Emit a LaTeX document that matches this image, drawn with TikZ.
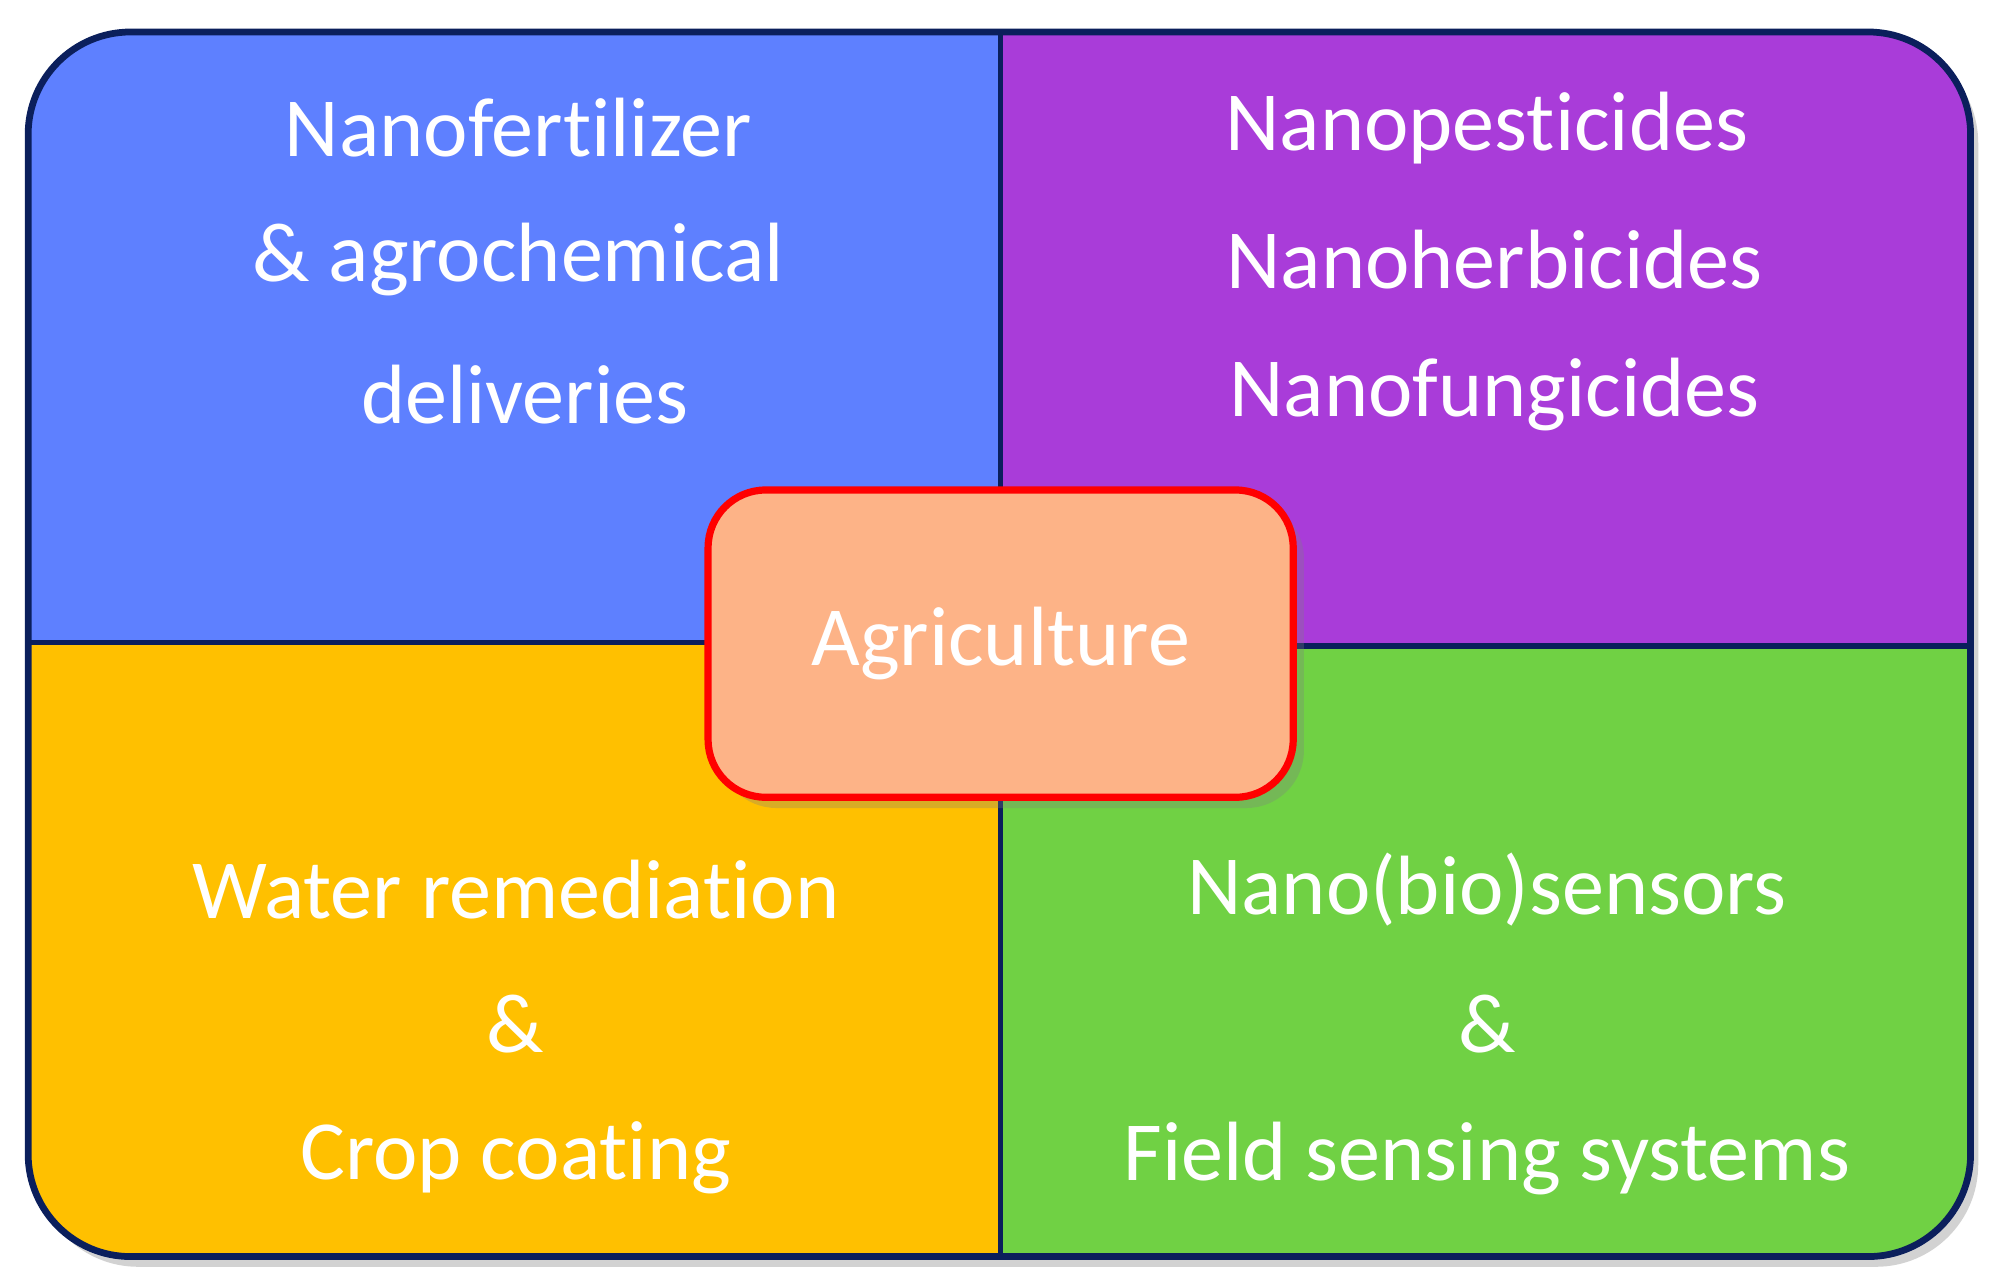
\documentclass[tikz,border=0pt]{standalone}
\usepackage{fontspec}
\setmainfont[Ligatures={NoCommon}]{Carlito}
\usetikzlibrary{shadows}
\definecolor{qblue}{HTML}{5E80FF}
\definecolor{qpurple}{HTML}{A93CD9}
\definecolor{qyellow}{HTML}{FFC000}
\definecolor{qgreen}{HTML}{70D144}
\definecolor{qedge}{HTML}{0B1F5C}
\definecolor{qcenter}{HTML}{FDB387}
\tikzset{lbl/.style={text=white,font=\fontsize{18.7}{23}\selectfont,inner sep=0pt,anchor=center}}
\begin{document}
\begin{tikzpicture}[x=0.01cm,y=-0.01cm]
\useasboundingbox (0,0) rectangle (1563,1000);
\fill[gray!35,rounded corners=0.8cm] (28,32) rectangle (1546,990);
\begin{scope}
\clip[rounded corners=0.8cm] (22,25) rectangle (1540,982);
\fill[qblue] (22,25) rectangle (782,502);
\fill[qpurple] (782,25) rectangle (1540,505);
\fill[qyellow] (22,502) rectangle (782,982);
\fill[qgreen] (782,505) rectangle (1540,982);
\end{scope}
\draw[qedge,line width=1.2pt] (782,25) -- (782,982);
\draw[qedge,line width=1.2pt] (22,502) -- (782,502) -- (782,505) -- (1540,505);
\draw[qedge,line width=1.5pt,rounded corners=0.8cm] (22,25) rectangle (1540,982);
\node[lbl] (a1) at (405,100) {Nanofertilizer};
\node[lbl] (a2) at (405,203) {\& agrochemical};
\node[lbl] (a3) at (410,308) {deliveries};
\node[lbl] (b1) at (1162,100) {Nanopesticides};
\node[lbl] (b2) at (1168,203) {Nanoherbicides};
\node[lbl] (b3) at (1168,308) {Nanofungicides};
\node[lbl] (c1) at (403,695) {Water remediation};
\node[lbl] (c2) at (403,800) {\&};
\node[lbl] (c3) at (403,905) {Crop coating};
\node[lbl] (d1) at (1162,695) {Nano(bio)sensors};
\node[lbl] (d2) at (1162,800) {\&};
\node[lbl] (d3) at (1162,905) {Field sensing systems};
\node[draw=red,line width=1.6pt,fill=qcenter,rounded corners=0.45cm,minimum width=4.57cm,minimum height=2.4cm,drop shadow={opacity=0.3}] (ctr) at (782,503) {};
\node[lbl] (ag) at (782,503) {Agriculture};
\end{tikzpicture}
\end{document}
